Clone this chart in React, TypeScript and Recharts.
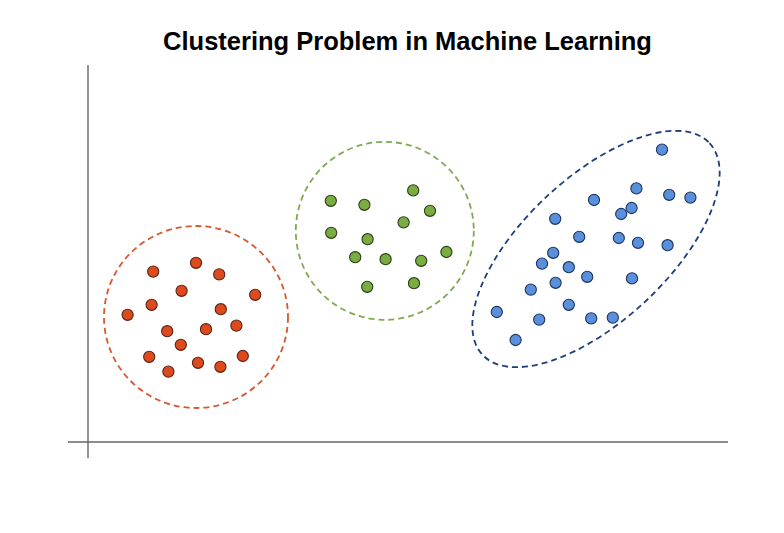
import React from 'react';
import { ScatterChart, Scatter, XAxis, YAxis, ReferenceLine } from 'recharts';

const TITLE = 'Clustering Problem in Machine Learning';

const redPoints = [
  { x: 16.3, y: 42.6 }, { x: 27, y: 44.8 }, { x: 32.8, y: 41.9 }, { x: 23.4, y: 37.8 },
  { x: 41.8, y: 36.8 }, { x: 15.9, y: 34.3 }, { x: 9.9, y: 31.8 }, { x: 33.2, y: 33.2 },
  { x: 19.8, y: 27.7 }, { x: 29.5, y: 28.2 }, { x: 37.1, y: 29.1 }, { x: 23.2, y: 24.3 },
  { x: 15.3, y: 21.3 }, { x: 38.7, y: 21.5 }, { x: 27.5, y: 19.8 }, { x: 33.1, y: 18.8 },
  { x: 20.1, y: 17.6 },
];

const greenPoints = [
  { x: 60.7, y: 60.3 }, { x: 69.1, y: 59.3 }, { x: 81.3, y: 62.9 }, { x: 85.5, y: 57.8 },
  { x: 78.9, y: 54.9 }, { x: 60.8, y: 52.3 }, { x: 69.9, y: 50.7 }, { x: 89.6, y: 47.5 },
  { x: 66.8, y: 46.2 }, { x: 74.4, y: 45.7 }, { x: 83.3, y: 45.3 }, { x: 69.8, y: 38.8 },
  { x: 81.5, y: 39.7 },
];

const bluePoints = [
  { x: 143.5, y: 73.1 }, { x: 137.1, y: 63.4 }, { x: 145.3, y: 61.8 }, { x: 150.6, y: 61.1 },
  { x: 126.5, y: 60.5 }, { x: 135.9, y: 58.5 }, { x: 133.3, y: 57 }, { x: 116.8, y: 55.8 },
  { x: 122.8, y: 51.3 }, { x: 132.7, y: 51 }, { x: 137.5, y: 49.8 }, { x: 144.9, y: 49.2 },
  { x: 116.3, y: 47.3 }, { x: 113.5, y: 44.6 }, { x: 120.2, y: 43.7 }, { x: 124.8, y: 41.3 },
  { x: 116.9, y: 39.8 }, { x: 136, y: 40.9 }, { x: 110.7, y: 38.1 }, { x: 120.2, y: 34.3 },
  { x: 102.2, y: 32.5 }, { x: 112.8, y: 30.6 }, { x: 125.8, y: 30.9 }, { x: 131.2, y: 31.1 },
  { x: 106.9, y: 25.5 },
];

// cluster boundaries: center (x, y), radii (rx, ry) in data units, tilt in degrees
const redBoundary = [{ x: 27, y: 31.25, rx: 23, ry: 22.75, angle: 0 }];
const greenBoundary = [{ x: 74.2, y: 52.8, rx: 22.25, ry: 22.25, angle: 0 }];
const blueBoundary = [{ x: 127, y: 48.25, rx: 38.8, ry: 18, angle: -43 }];

const X_DOMAIN: [number, number] = [0, 160];
const Y_DOMAIN: [number, number] = [0, 94];

const W = 784;
const H = 533;
const MARGIN = { top: 66, right: 56, bottom: 91, left: 88 };
const PX_X = (W - MARGIN.left - MARGIN.right) / (X_DOMAIN[1] - X_DOMAIN[0]);
const PX_Y = (H - MARGIN.top - MARGIN.bottom) / (Y_DOMAIN[1] - Y_DOMAIN[0]);

const makeDot = (fill: string, stroke: string) => (p: any) => (
  <circle cx={p.cx} cy={p.cy} r={5.6} fill={fill} stroke={stroke} strokeWidth={1.1} />
);

const makeBoundary = (stroke: string) => (p: any) => {
  const d = p.payload;
  return (
    <ellipse
      cx={p.cx}
      cy={p.cy}
      rx={d.rx * PX_X}
      ry={d.ry * PX_Y}
      transform={`rotate(${d.angle} ${p.cx} ${p.cy})`}
      fill="none"
      stroke={stroke}
      strokeWidth={1.8}
      strokeDasharray="6 4"
    />
  );
};

export default function App() {
  return (
    <div style={{ position: 'absolute', left: 0, top: 0, width: W, height: H, background: '#fff' }}>
      <ScatterChart width={W} height={H} margin={MARGIN}>
        <XAxis type="number" dataKey="x" domain={X_DOMAIN} hide allowDataOverflow />
        <YAxis type="number" dataKey="y" domain={Y_DOMAIN} hide allowDataOverflow />
        <ReferenceLine
          segment={[{ x: -5, y: 0 }, { x: 160, y: 0 }]}
          stroke="#666"
          strokeWidth={1.4}
          ifOverflow="visible"
        />
        <ReferenceLine
          segment={[{ x: 0, y: -4 }, { x: 0, y: 94.25 }]}
          stroke="#666"
          strokeWidth={1.4}
          ifOverflow="visible"
        />
        <Scatter data={redBoundary} shape={makeBoundary('#D9562F')} isAnimationActive={false} />
        <Scatter data={greenBoundary} shape={makeBoundary('#7FAA52')} isAnimationActive={false} />
        <Scatter data={blueBoundary} shape={makeBoundary('#1F3E7C')} isAnimationActive={false} />
        <Scatter data={redPoints} shape={makeDot('#DD4A1E', '#5A2614')} isAnimationActive={false} />
        <Scatter data={greenPoints} shape={makeDot('#79AD42', '#2C3F19')} isAnimationActive={false} />
        <Scatter data={bluePoints} shape={makeDot('#5A8FDC', '#1D3560')} isAnimationActive={false} />
        <text
          x={407.5}
          y={49.5}
          textAnchor="middle"
          fontFamily="'Liberation Sans', Arial, sans-serif"
          fontWeight="bold"
          fontSize={25.5}
          fill="#000"
        >
          {TITLE}
        </text>
      </ScatterChart>
    </div>
  );
}
